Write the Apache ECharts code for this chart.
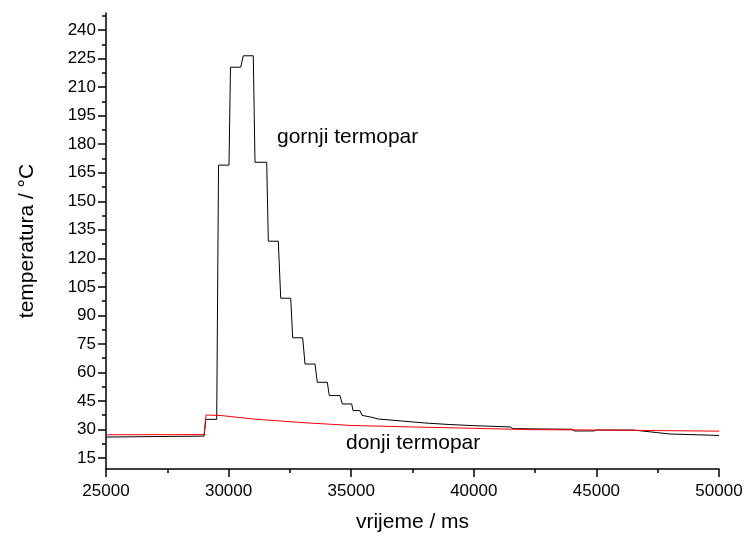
<!DOCTYPE html>
<html>
<head>
<meta charset="utf-8">
<script src="https://cdn.jsdelivr.net/npm/echarts@6/dist/echarts.min.js"></script>
<style>
html,body{margin:0;padding:0;background:#fff;}
#c{width:748px;height:540px;}
</style>
</head>
<body>
<div id="c"></div>
<script>
// ---- data ----
const xTicks = [25000, 30000, 35000, 40000, 45000, 50000];
const yTicks = [15, 30, 45, 60, 75, 90, 105, 120, 135, 150, 165, 180, 195, 210, 225, 240];
const yMinorTicks = [22.5, 37.5, 52.5, 67.5, 82.5, 97.5, 112.5, 127.5, 142.5, 157.5, 172.5, 187.5, 202.5, 217.5, 232.5, 247.5];

const gornjiTime = [25000, 29000, 29070, 29515, 29590, 30016, 30077, 30493, 30600, 31007, 31077, 31554, 31620, 32027, 32125, 32533, 32614, 33022, 33116, 33524, 33617, 34025, 34107, 34543, 34637, 35020, 35073, 35358, 35440, 35800, 36100, 37000, 38000, 39000, 40000, 41500, 41600, 44000, 44100, 44900, 45000, 46500, 47500, 48000, 49600, 50000];
const gornjiTemp = [26.0, 26.5, 35.3, 35.3, 169.0, 169.0, 220.5, 220.5, 226.5, 226.5, 170.5, 170.5, 129.0, 129.0, 99.0, 99.0, 78.2, 78.2, 64.4, 64.4, 54.8, 54.8, 47.8, 47.8, 43.4, 43.4, 39.9, 39.9, 37.4, 36.5, 35.5, 34.5, 33.4, 32.6, 32.0, 31.3, 30.4, 30.1, 29.2, 29.2, 29.7, 29.7, 28.3, 27.6, 27.0, 26.8];

const donjiTime = [25000, 29000, 29080, 29700, 31000, 33000, 35000, 37500, 40000, 42300, 45000, 47500, 50000];
const donjiTemp = [27.2, 27.3, 37.6, 37.3, 35.5, 33.6, 32.1, 31.3, 30.6, 29.9, 29.7, 29.4, 29.1];

const xName = 'vrijeme / ms';
const yName = 'temperatura / °C';
const labelGornji = 'gornji termopar';
const labelDonji = 'donji termopar';

// ---- build ----
const zip = (a, b) => a.map((v, i) => [v, b[i]]);
const FONT = 'Liberation Sans, Arial, sans-serif';

const chart = echarts.init(document.getElementById('c'), null, {renderer: 'canvas'});
chart.setOption({
  animation: false,
  backgroundColor: '#fff',
  grid: {left: 106, right: 29, top: 13, bottom: 71, containLabel: false, outerBoundsMode: 'none'},
  xAxis: {
    type: 'value',
    min: xTicks[0],
    max: xTicks[xTicks.length - 1],
    interval: 5000,
    name: xName,
    nameLocation: 'middle',
    nameGap: 43,
    nameTextStyle: {fontFamily: FONT, fontSize: 21, color: '#000'},
    axisLine: {show: true, onZero: false, lineStyle: {color: '#000', width: 1.5}},
    axisTick: {show: true, inside: false, length: 8, lineStyle: {color: '#000', width: 1.5}},
    minorTick: {show: true, splitNumber: 2, length: 4, lineStyle: {color: '#000', width: 1.5}},
    axisLabel: {show: true, margin: 14, fontFamily: FONT, fontSize: 17, color: '#000',
      customValues: xTicks, formatter: v => String(v)},
    splitLine: {show: false},
    minorSplitLine: {show: false}
  },
  yAxis: [{
    type: 'value',
    position: 'left',
    min: 9.2,
    max: 249,
    name: yName,
    nameLocation: 'middle',
    nameGap: 68,
    nameTextStyle: {fontFamily: FONT, fontSize: 21, color: '#000'},
    axisLine: {show: true, onZero: false, lineStyle: {color: '#000', width: 1.5}},
    axisTick: {show: true, inside: false, length: 8, customValues: yTicks, lineStyle: {color: '#000', width: 1.5}},
    axisLabel: {show: true, margin: 10, fontFamily: FONT, fontSize: 17, color: '#000', customValues: yTicks},
    splitLine: {show: false}
  }, {
    type: 'value',
    position: 'left',
    offset: 0,
    min: 9.2,
    max: 249,
    axisLine: {show: false},
    axisTick: {show: true, inside: false, length: 4, customValues: yMinorTicks, lineStyle: {color: '#000', width: 1.5}},
    axisLabel: {show: false},
    splitLine: {show: false}
  }],
  series: [{
    name: labelGornji,
    type: 'line',
    yAxisIndex: 0,
    data: zip(gornjiTime, gornjiTemp),
    showSymbol: false,
    symbol: 'none',
    lineStyle: {color: '#000', width: 1},
    itemStyle: {color: '#000'},
    z: 2
  }, {
    name: labelDonji,
    type: 'line',
    yAxisIndex: 0,
    data: zip(donjiTime, donjiTemp),
    showSymbol: false,
    symbol: 'none',
    lineStyle: {color: '#ff0000', width: 1},
    itemStyle: {color: '#ff0000'},
    z: 3
  }],
  graphic: [{
    type: 'text',
    left: 277,
    top: 127,
    style: {text: labelGornji, font: '21px ' + FONT, fill: '#000'}
  }, {
    type: 'text',
    left: 346,
    top: 433,
    style: {text: labelDonji, font: '21px ' + FONT, fill: '#000'}
  }]
});
</script>
</body>
</html>
